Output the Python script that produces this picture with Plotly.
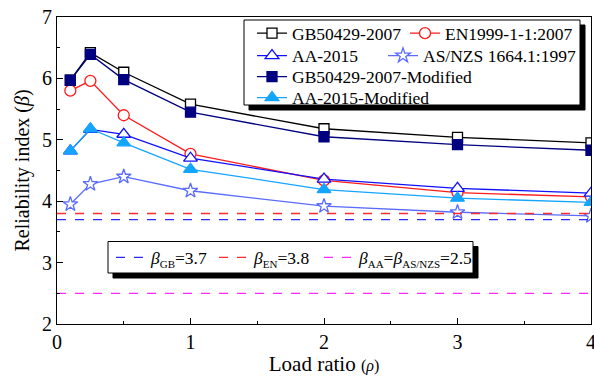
import plotly.graph_objects as go

# ---- data ----
load_ratio = [0.1, 0.25, 0.5, 1, 2, 3, 4]
gb2007 = [5.97, 6.42, 6.10, 5.58, 5.18, 5.04, 4.95]
en1999 = [5.80, 5.96, 5.40, 4.77, 4.34, 4.14, 4.07]
aa2015 = [4.82, 5.17, 5.09, 4.70, 4.36, 4.21, 4.13]
asnzs = [3.95, 4.28, 4.40, 4.17, 3.92, 3.82, 3.76]
gb_mod = [5.97, 6.39, 5.98, 5.45, 5.05, 4.92, 4.83]
aa_mod = [4.82, 5.18, 4.95, 4.52, 4.19, 4.05, 3.98]

target_x = [0, 4]
beta_gb = 3.7
beta_en = 3.8
beta_aa = 2.5

FONT = "Liberation Serif"

# plot area geometry (pixels)
W, H = 594, 376
ML, MR, MT, MB = 57, 3, 17, 52
PW, PH = W - ML - MR, H - MT - MB


def px(x):
    return (x - ML) / PW


def py(y):
    return (H - MB - y) / PH


fig = go.Figure()
legends = {}

leg_common = dict(orientation="v", xanchor="left", yanchor="middle",
                  bgcolor="rgba(0,0,0,0)", borderwidth=0, visible=True,
                  font=dict(family=FONT, size=17.5, color="black"),
                  itemwidth=30, tracegroupgap=0)


def legend_at(key, xpix, ypix):
    legends[key] = dict(x=px(xpix), y=py(ypix), **leg_common)
    return key


def add_series(y, name, color, symbol, fill, leg, size=10):
    fig.add_trace(go.Scatter(
        x=load_ratio, y=y, name=name, mode="lines+markers",
        line=dict(color=color, width=1.3),
        marker=dict(symbol=symbol, size=size, color=fill,
                    line=dict(color=color, width=1.3)),
        legend=leg, showlegend=True,
    ))


C1 = 252
add_series(gb2007, "GB50429-2007", "#000000", "square", "white",
           legend_at("legend", C1, 33.3), 10)
add_series(en1999, "EN1999-1-1:2007", "#FF1A1A", "circle", "white",
           legend_at("legend2", 405, 33.3), 11)
add_series(aa2015, "AA-2015", "#1010FF", "triangle-up", "white",
           legend_at("legend3", C1, 55.7), 12)
add_series(asnzs, "AS/NZS 1664.1:1997", "#5A6BFF", "star", "white",
           legend_at("legend4", 383, 55.7), 11)
add_series(gb_mod, "GB50429-2007-Modified", "#000080", "square", "#000080",
           legend_at("legend5", C1, 76.7), 10)
add_series(aa_mod, "AA-2015-Modified", "#14A5FF", "triangle-up", "#14A5FF",
           legend_at("legend6", C1, 97.7), 12)

SUB = "<sub><span style='font-size:11px'>%s</span></sub>"
for i, (val, name, color, xp) in enumerate([
    (beta_gb, "<i>β</i>" + SUB % "GB" + "=3.7", "#2A2AFF", 111),
    (beta_en, "<i>β</i>" + SUB % "EN" + "=3.8", "#FF2A2A", 214),
    (beta_aa, "<i>β</i>" + SUB % "AA" + "=<i>β</i>" + SUB % "AS/NZS" + "=2.5", "#FF2AFF", 319),
]):
    fig.add_trace(go.Scatter(
        x=target_x, y=[val] * len(target_x), name=name, mode="lines",
        line=dict(color=color, width=1.3, dash="dash"),
        legend=legend_at("legend%d" % (7 + i), xp, 257.5), showlegend=True,
    ))

# legend boxes with shadows
shapes = []
for (x0, y0, x1, y1) in [(244, 20, 580, 105), (108, 241.5, 473, 273)]:
    shapes.append(dict(type="rect", xref="paper", yref="paper", layer="above",
                       x0=px(x0 + 5), x1=px(x1 + 5), y0=py(y1 + 5), y1=py(y0 + 5),
                       fillcolor="black", line=dict(color="black", width=1)))
    shapes.append(dict(type="rect", xref="paper", yref="paper", layer="above",
                       x0=px(x0), x1=px(x1), y0=py(y1), y1=py(y0),
                       fillcolor="white", line=dict(color="black", width=1)))

fig.update_layout(
    width=W, height=H,
    margin=dict(l=ML, r=MR, t=MT, b=MB, autoexpand=False),
    paper_bgcolor="white", plot_bgcolor="white",
    font=dict(family=FONT, size=20, color="black"),
    showlegend=True,
    shapes=shapes,
    **legends,
    xaxis=dict(range=[0, 4], dtick=1, tick0=0, showline=True, linecolor="black",
               linewidth=1.2, mirror=True, ticks="inside", ticklen=6,
               tickcolor="black", showgrid=False, zeroline=False,
               ticklabeloverflow="allow", automargin=False,
               minor=dict(dtick=0.5, ticks="inside", ticklen=3, tickcolor="black"),
               tickfont=dict(size=20),
               title=dict(text="Load ratio <span style='font-size:16px'>(<i>ρ</i>)</span>",
                          font=dict(size=21), standoff=2)),
    yaxis=dict(range=[2, 7], dtick=1, tick0=2, showline=True, linecolor="black",
               linewidth=1.2, mirror=True, ticks="inside", ticklen=6,
               tickcolor="black", showgrid=False, zeroline=False, automargin=False,
               minor=dict(dtick=0.5, ticks="inside", ticklen=3, tickcolor="black"),
               tickfont=dict(size=20),
               title=dict(text="Reliability index (<i>β</i>)", font=dict(size=20), standoff=6)),
)

fig.write_html("out.html")
